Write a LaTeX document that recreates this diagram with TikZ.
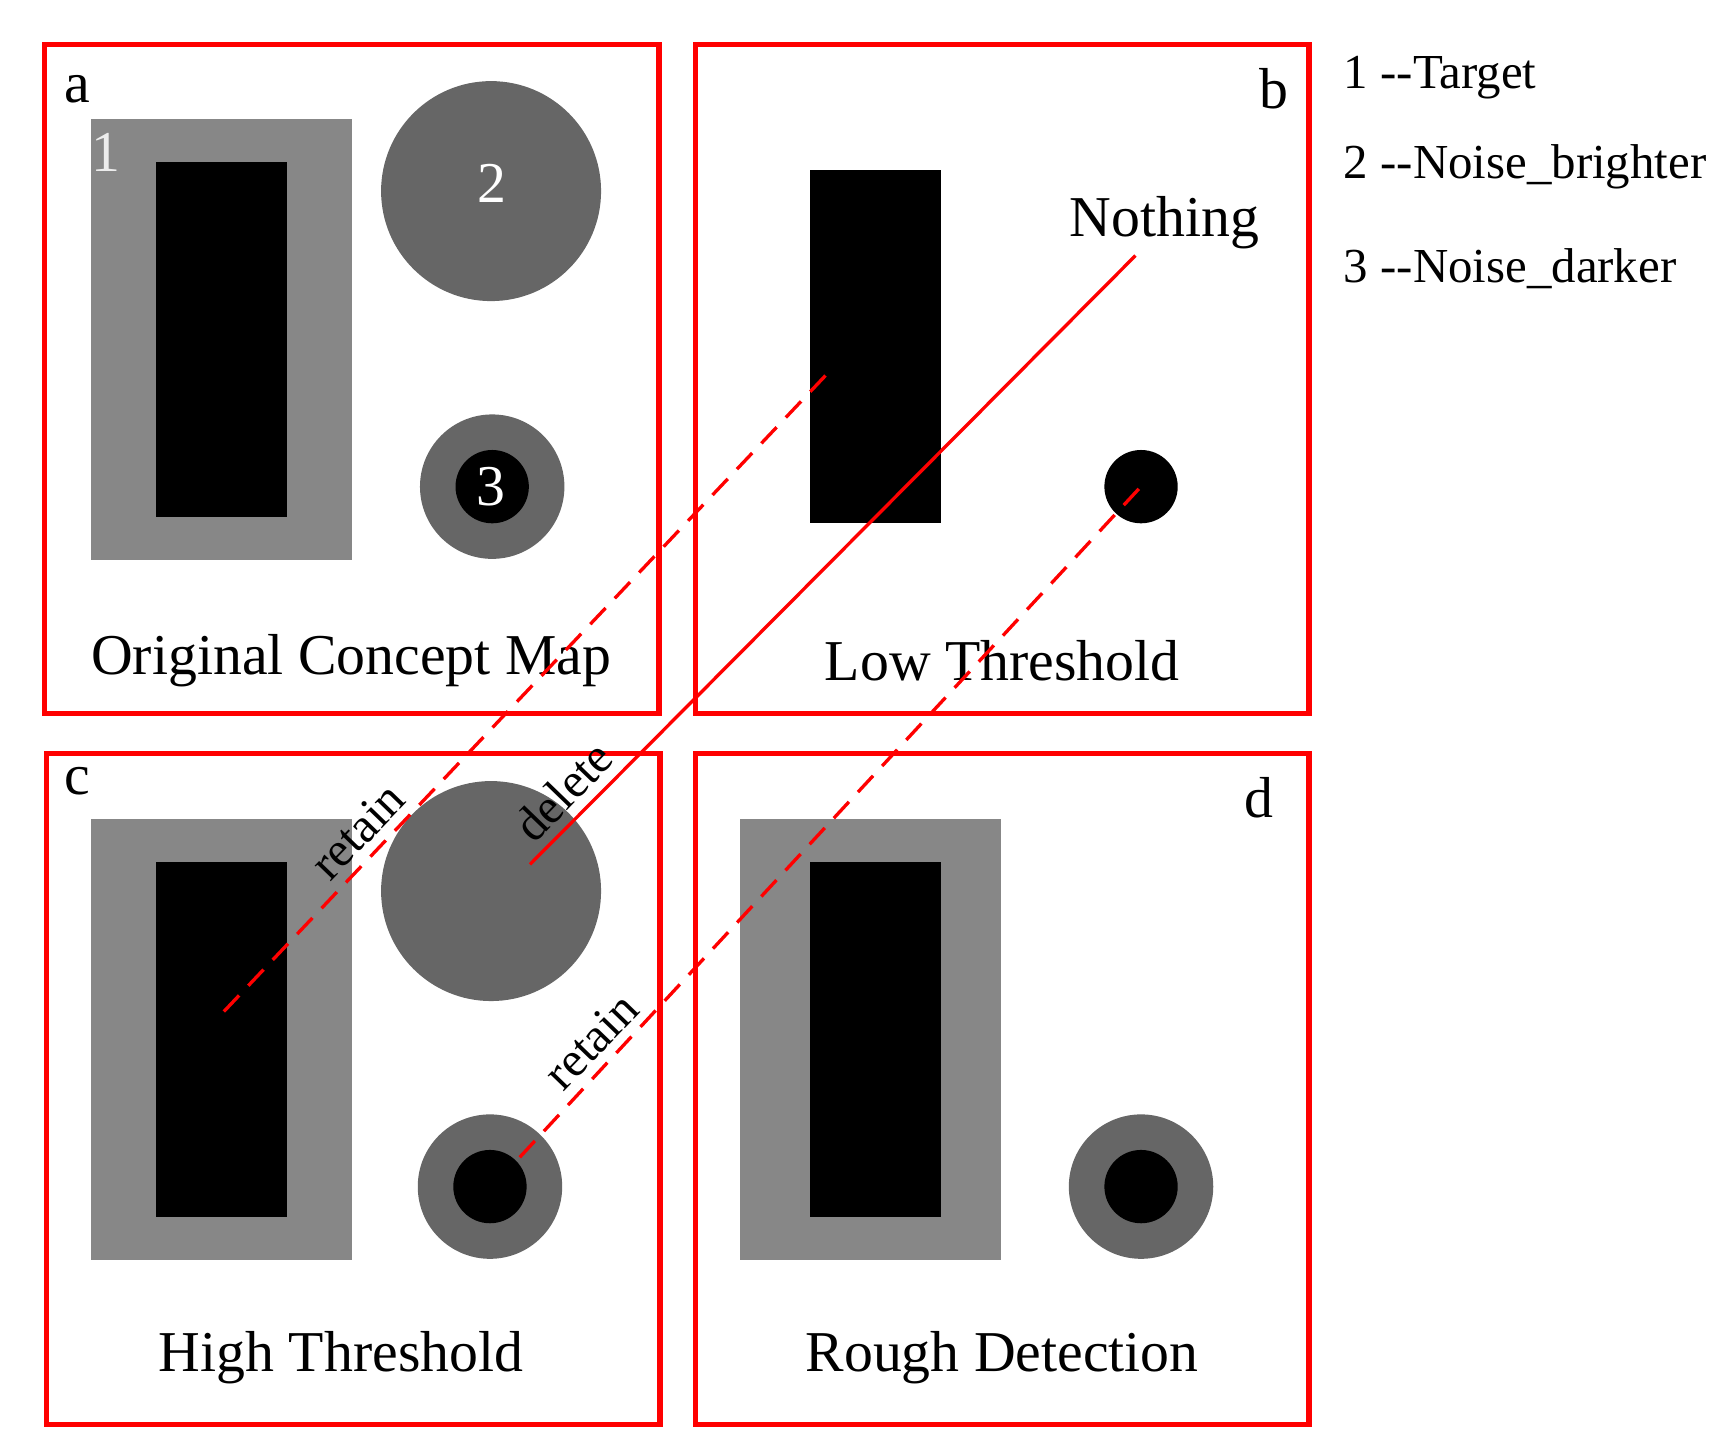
\documentclass[tikz,border=0pt]{standalone}
\usepackage{fontspec}
\setmainfont{Liberation Serif}
\definecolor{lg}{HTML}{878787}
\definecolor{dg}{HTML}{666666}
\begin{document}
\begin{tikzpicture}[x=1pt,y=-1pt,
  frame/.style={draw=red,line width=5},
  big/.style={font=\fontsize{52}{60}\selectfont},
  mid/.style={font=\fontsize{44}{52}\selectfont},
  conn/.style={draw=red,line width=3},
  dsh/.style={conn,dash pattern=on 20 off 12}]
\useasboundingbox (0,0) rectangle (1558,1299);
% frames
\draw[frame] (40,40) rectangle (593,642);
\draw[frame] (626,40) rectangle (1178,642);
\draw[frame] (42,678) rectangle (594,1282);
\draw[frame] (626,678) rectangle (1178,1282);
% a
\fill[lg] (82,107) rectangle (317,504);
\fill[black] (140,146) rectangle (258,465);
\fill[dg] (442,172) circle (99);
\fill[dg] (443,438) circle (65);
\fill[black] (443,438) circle (33);
\node[big,text=white!85!gray] (n1) at (95,137) {1};
\node[big,text=white] (n2) at (443,165) {2};
\node[big,text=white] (n3) at (442,438) {3};
\node[big] (la) at (70,80) {a};
\node[big] (ta) at (316,595) {Original Concept Map};
% b
\fill[black] (729,153) rectangle (847,471);
\fill[black] (1027,438) circle (33);
\node[big] (nothing) at (1048,200) {Nothing};
\node[big] (lb) at (1147,80) {b};
\node[big] (tb) at (902,595) {Low Threshold};
% c
\fill[lg] (82,737) rectangle (317,1134);
\fill[black] (140,776) rectangle (258,1095);
\fill[dg] (442,802) circle (99);
\fill[dg] (441,1068) circle (65);
\fill[black] (441,1068) circle (33);
\node[big] (lc) at (70,703) {c};
\node[big] (tc) at (307,1222) {High Threshold};
% d
\fill[lg] (666,737) rectangle (901,1134);
\fill[black] (729,776) rectangle (847,1095);
\fill[dg] (1027,1068) circle (65);
\fill[black] (1027,1068) circle (33);
\node[big] (ld) at (1133,718) {d};
\node[big] (td) at (902,1222) {Rough Detection};
% legend
\node[mid,anchor=west] (l1) at (1206,70) {1 {-}{-}Target};
\node[mid,anchor=west] (l2) at (1206,150) {2 {-}{-}Noise\_brighter};
\node[mid,anchor=west] (l3) at (1206,242) {3 {-}{-}Noise\_darker};
% connectors
\coordinate (p1) at (743,338); \coordinate (q1) at (200,912);
\coordinate (p2) at (1022,230); \coordinate (q2) at (477,778);
\coordinate (p3) at (1025,440); \coordinate (q3) at (460,1050);
\draw[dsh] (p1) -- (q1);
\draw[conn] (p2) -- (q2);
\draw[dsh] (p3) -- (q3);
\node[mid,rotate=46] (r1) at (322,748) {retain};
\node[mid,rotate=46] (del) at (507,712) {delete};
\node[mid,rotate=46] (r2) at (532,937) {retain};
\end{tikzpicture}
\end{document}
